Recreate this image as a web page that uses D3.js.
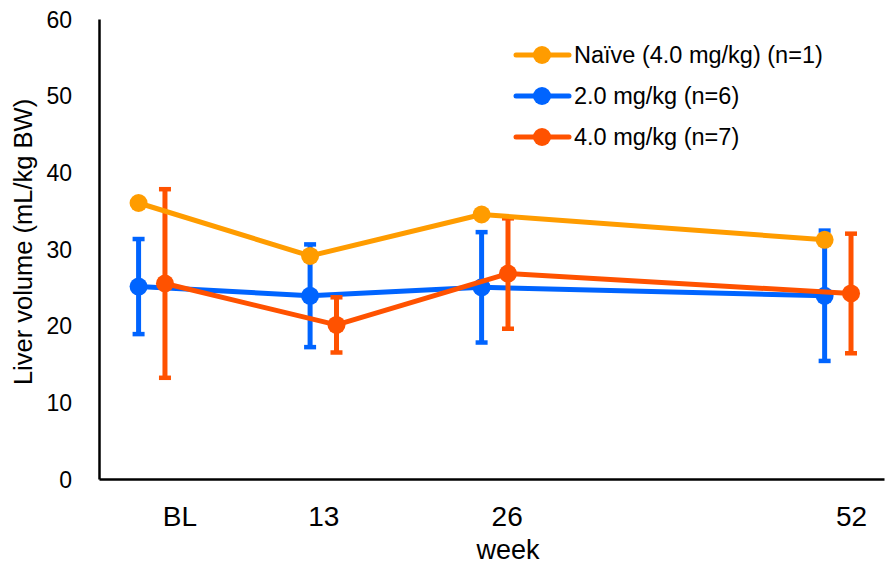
<!DOCTYPE html>
<html>
<head>
<meta charset="utf-8">
<script src="https://cdn.jsdelivr.net/npm/d3@7"></script>
<style>
  body { margin: 0; background: #fff; }
  text { font-family: "Liberation Sans", Arial, sans-serif; fill: #000; }
</style>
</head>
<body>
<div id="chart-area"></div>
<script>
// data
var weeks = [0, 13, 26, 52];
var tickLabels = ["BL", "13", "26", "52"];
var tickWeeks = [3.1, 14, 27.9, 54];

var naiveVals = [36.0, 29.1, 34.5, 31.2];
var dose2Vals = [25.1, 23.9, 25.0, 23.9];
var dose2Err = [6.2, 6.7, 7.2, 8.5];
var dose4Vals = [25.5, 20.1, 26.8, 24.2];
var dose4Err = [12.3, 3.6, 7.2, 7.8];

var seriesNames = ["Naïve (4.0 mg/kg) (n=1)", "2.0 mg/kg (n=6)", "4.0 mg/kg (n=7)"];
var seriesColors = ["#FF9C00", "#0064FF", "#FF5200"];

var W = 885, H = 564;
var svg = d3.select("#chart-area")
  .append("svg")
  .attr("width", W)
  .attr("height", H);

var x = d3.scaleLinear().domain([-3, 56.5]).range([99, 884]);
var y = d3.scaleLinear().domain([0, 60]).range([479, 19]);

// red series is drawn slightly to the right of the others
var shift4 = 2;

var series = [
  { name: seriesNames[1], color: seriesColors[1], vals: dose2Vals, err: dose2Err, shift: 0 },
  { name: seriesNames[2], color: seriesColors[2], vals: dose4Vals, err: dose4Err, shift: shift4 },
  { name: seriesNames[0], color: seriesColors[0], vals: naiveVals, err: null, shift: 0 }
];

// axes
var yAxis = d3.axisLeft(y).tickValues(d3.range(0, 61, 10)).tickSize(0).tickPadding(27);
var gy = svg.append("g")
  .attr("transform", "translate(99,0)")
  .call(yAxis);
gy.selectAll("text").style("font-size", "23px").attr("dy", "0.35em");
gy.select(".domain").attr("stroke", "#000").attr("stroke-width", 2.5);

var xAxis = d3.axisBottom(x).tickValues(tickWeeks).tickSize(0)
  .tickFormat(function (d, i) { return tickLabels[i]; });
var gx = svg.append("g")
  .attr("transform", "translate(0,479)")
  .call(xAxis);
gx.selectAll("text").style("font-size", "28px").attr("y", 0).attr("dy", "1.67em");
gx.select(".domain").attr("stroke", "#000").attr("stroke-width", 2.5);

svg.append("text")
  .attr("x", 508)
  .attr("y", 559)
  .attr("text-anchor", "middle")
  .style("font-size", "27px")
  .text("week");

svg.append("text")
  .attr("transform", "translate(32,242) rotate(-90)")
  .attr("text-anchor", "middle")
  .style("font-size", "25.5px")
  .text("Liver volume (mL/kg BW)");

var line = d3.line()
  .x(function (d) { return d.x; })
  .y(function (d) { return d.y; });

series.forEach(function (s) {
  var pts = weeks.map(function (w, i) {
    return { x: x(w + s.shift), y: y(s.vals[i]), v: s.vals[i], e: s.err ? s.err[i] : null };
  });
  var g = svg.append("g");
  if (s.err) {
    var eb = g.selectAll(".err").data(pts).enter().append("g");
    eb.append("line")
      .attr("x1", function (d) { return d.x; })
      .attr("x2", function (d) { return d.x; })
      .attr("y1", function (d) { return y(d.v + d.e); })
      .attr("y2", function (d) { return y(d.v - d.e); })
      .attr("stroke", s.color).attr("stroke-width", 5);
    [1, -1].forEach(function (sg) {
      eb.append("line")
        .attr("x1", function (d) { return d.x - 6; })
        .attr("x2", function (d) { return d.x + 6; })
        .attr("y1", function (d) { return y(d.v + sg * d.e); })
        .attr("y2", function (d) { return y(d.v + sg * d.e); })
        .attr("stroke", s.color).attr("stroke-width", 4.5);
    });
  }
  g.append("path")
    .datum(pts)
    .attr("d", line)
    .attr("fill", "none")
    .attr("stroke", s.color)
    .attr("stroke-width", 5)
    .attr("stroke-linejoin", "round");
  g.selectAll("circle").data(pts).enter().append("circle")
    .attr("cx", function (d) { return d.x; })
    .attr("cy", function (d) { return d.y; })
    .attr("r", 9)
    .attr("fill", s.color);
});

// legend
var legend = svg.append("g");
var legendRows = [0, 1, 2];
var ly = d3.scaleLinear().domain([0, 2]).range([55, 137]);
legendRows.forEach(function (i) {
  var row = legend.append("g").attr("transform", "translate(0," + ly(i) + ")");
  row.append("line")
    .attr("x1", 516).attr("x2", 569)
    .attr("stroke", seriesColors[i]).attr("stroke-width", 5)
    .attr("stroke-linecap", "round");
  row.append("circle").attr("cx", 542).attr("cy", 0).attr("r", 9).attr("fill", seriesColors[i]);
  row.append("text")
    .attr("x", 574).attr("dy", "0.35em")
    .style("font-size", "23.5px")
    .text(seriesNames[i]);
});
</script>
</body>
</html>
